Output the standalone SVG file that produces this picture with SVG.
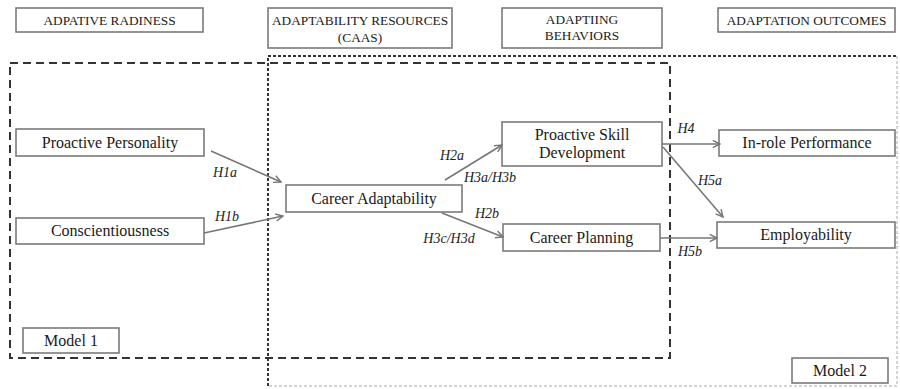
<svg xmlns="http://www.w3.org/2000/svg" width="900" height="389" viewBox="0 0 900 389" font-family="'Liberation Serif', 'DejaVu Serif', serif">
<defs>
<style>
.box{fill:#fff;stroke:#7a7a7a;stroke-width:1.6}
.t{fill:#1a1a1a;text-anchor:middle}
.hd{font-size:13.3px}
.nd{font-size:16px}
.lb{font-style:italic;font-size:14px;fill:#222;text-anchor:middle}
.ar{stroke:#777;stroke-width:1.6;fill:none;marker-end:url(#ah)}
.m1{fill:none;stroke:#333;stroke-width:2;stroke-dasharray:8 5}
.m2{fill:none;stroke:#333;stroke-width:2;stroke-dasharray:3 2}
.m2f{fill:none;stroke:#c8c8c8;stroke-width:1.5;stroke-dasharray:3 2}
</style>
<marker id="ah" viewBox="0 0 10 10" refX="9" refY="5" markerWidth="9" markerHeight="9" markerUnits="userSpaceOnUse" orient="auto">
<path d="M1,1 L9,5 L1,9" fill="none" stroke="#777" stroke-width="1.6"/>
</marker>
</defs>
<rect width="900" height="389" fill="#fff"/>

<g id="model-frames">
<path class="m2" d="M268,386 L268,56 L897,56"/>
<path class="m2f" d="M897,56 L897,386 L268,386"/>
<rect class="m1" x="10" y="63" width="660" height="295"/>
</g>

<g id="header-readiness"><rect class="box" x="16" y="8" width="187" height="24"/><text class="t hd" x="109.5" y="24.5">ADPATIVE RADINESS</text></g>
<g id="header-resources"><rect class="box" x="268" y="8" width="184" height="40"/><text class="t hd" x="360" y="25">ADAPTABILITY RESOURCES</text><text class="t hd" x="360" y="42">(CAAS)</text></g>
<g id="header-behaviors"><rect class="box" x="502" y="8" width="160" height="40"/><text class="t hd" x="582" y="24">ADAPTIING</text><text class="t hd" x="582" y="40">BEHAVIORS</text></g>
<g id="header-outcomes"><rect class="box" x="718" y="8" width="177" height="24"/><text class="t hd" x="806.5" y="24.5">ADAPTATION OUTCOMES</text></g>

<g id="proactive-personality"><rect class="box" x="16" y="129" width="188" height="27"/><text class="t nd" x="110" y="148">Proactive Personality</text></g>
<g id="conscientiousness"><rect class="box" x="16" y="218" width="188" height="26"/><text class="t nd" x="110" y="236">Conscientiousness</text></g>
<g id="career-adaptability"><rect class="box" x="286" y="185" width="176" height="27"/><text class="t nd" x="374" y="204">Career Adaptability</text></g>
<g id="proactive-skill-development"><rect class="box" x="502" y="122" width="160" height="44"/><text class="t nd" x="582" y="140">Proactive Skill</text><text class="t nd" x="582" y="158">Development</text></g>
<g id="career-planning"><rect class="box" x="503" y="224" width="157" height="27"/><text class="t nd" x="581.5" y="243">Career Planning</text></g>
<g id="in-role-performance"><rect class="box" x="719" y="130" width="176" height="26"/><text class="t nd" x="807" y="148">In-role Performance</text></g>
<g id="employability"><rect class="box" x="717" y="222" width="178" height="26"/><text class="t nd" x="806" y="240">Employability</text></g>
<g id="model-1"><rect class="box" x="23" y="328" width="96" height="25"/><text class="t nd" x="71" y="346">Model 1</text></g>
<g id="model-2"><rect class="box" x="792" y="358" width="96" height="25"/><text class="t nd" x="840" y="376">Model 2</text></g>

<g id="connectors">
<line class="ar" x1="211" y1="151" x2="281" y2="182"/>
<line class="ar" x1="204" y1="233" x2="283" y2="216"/>
<line class="ar" x1="445" y1="180" x2="502" y2="145"/>
<line class="ar" x1="442" y1="213" x2="503" y2="237"/>
<line class="ar" x1="662" y1="144" x2="720" y2="144"/>
<line class="ar" x1="663" y1="147" x2="723" y2="217"/>
<line class="ar" x1="660" y1="238" x2="717" y2="238"/>
<text class="lb" x="225" y="177">H1a</text>
<text class="lb" x="227" y="221">H1b</text>
<text class="lb" x="452" y="160">H2a</text>
<text class="lb" x="490" y="182">H3a/H3b</text>
<text class="lb" x="487" y="218">H2b</text>
<text class="lb" x="449" y="243">H3c/H3d</text>
<text class="lb" x="686" y="133">H4</text>
<text class="lb" x="710" y="185">H5a</text>
<text class="lb" x="690" y="256">H5b</text>
</g>
</svg>
